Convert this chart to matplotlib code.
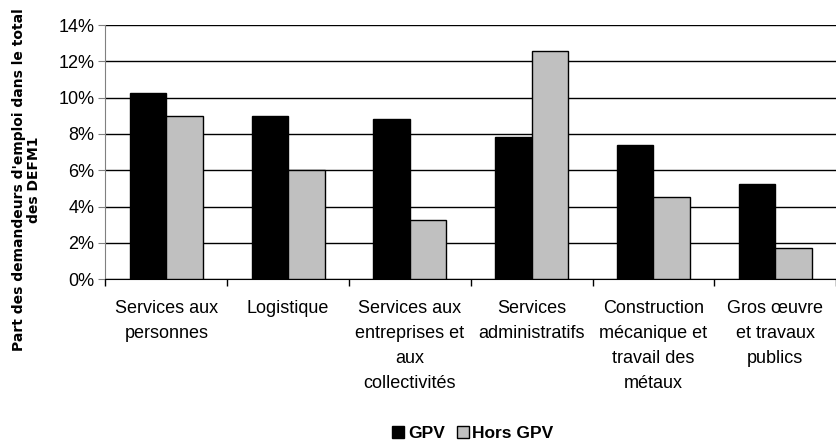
import matplotlib.pyplot as plt
import numpy as np
from matplotlib.ticker import FuncFormatter

plt.rcParams['font.family'] = ['Liberation Sans', 'DejaVu Sans']

categories = ["Services aux\npersonnes", "Logistique",
              "Services aux\nentreprises et\naux\ncollectivités",
              "Services\nadministratifs",
              "Construction\nmécanique et\ntravail des\nmétaux",
              "Gros œuvre\net travaux\npublics"]
gpv = [10.25, 9.0, 8.8, 7.85, 7.4, 5.25]
hors_gpv = [9.0, 6.0, 3.25, 12.55, 4.55, 1.7]

fig = plt.figure(figsize=(8.37, 4.48), dpi=100)
ax = fig.add_axes([0.126, 0.377, 0.873, 0.567])

x = np.arange(len(categories))
w = 0.3
ax.bar(x - w / 2, gpv, w, color='black', edgecolor='black', linewidth=1, label='GPV', zorder=3)
ax.bar(x + w / 2, hors_gpv, w, color='#c0c0c0', edgecolor='black', linewidth=1, label='Hors GPV', zorder=3)

ax.set_ylim(0, 14)
ax.set_xlim(-0.5, len(categories) - 0.5)
ax.set_yticks(range(0, 15, 2))
ax.yaxis.set_major_formatter(FuncFormatter(lambda v, p: f"{int(v)}%"))
ax.grid(axis='y', color='black', linewidth=1, zorder=0)

ax.set_xticks(x)
ax.set_xticklabels(categories, fontsize=13, linespacing=1.62, va='top')
ax.tick_params(axis='x', length=0, pad=15)
ax.set_xticks(np.arange(-0.5, len(categories) - 0.4, 1), minor=True)
ax.tick_params(axis='x', which='minor', length=5, width=1, color='black', direction='out')
ax.tick_params(axis='y', labelsize=13, length=5, color='#808080', pad=3)

for s in ['top', 'right']:
    ax.spines[s].set_visible(False)
ax.spines['left'].set_color('#808080')
ax.spines['bottom'].set_color('black')

fig.text(0.032, 0.598, "Part des demandeurs d'emploi dans le total\ndes DEFM1",
         rotation=90, ha='center', va='center', fontsize=10, fontweight='bold',
         family='DejaVu Sans', linespacing=1.1)

fig.legend(loc='center', bbox_to_anchor=(0.565, 0.033), ncol=2, frameon=False,
           prop={'weight': 'bold', 'size': 12.5}, handlelength=0.7, handleheight=0.7,
           handletextpad=0.2, columnspacing=0.7)

fig.savefig('out.png', dpi=100)
